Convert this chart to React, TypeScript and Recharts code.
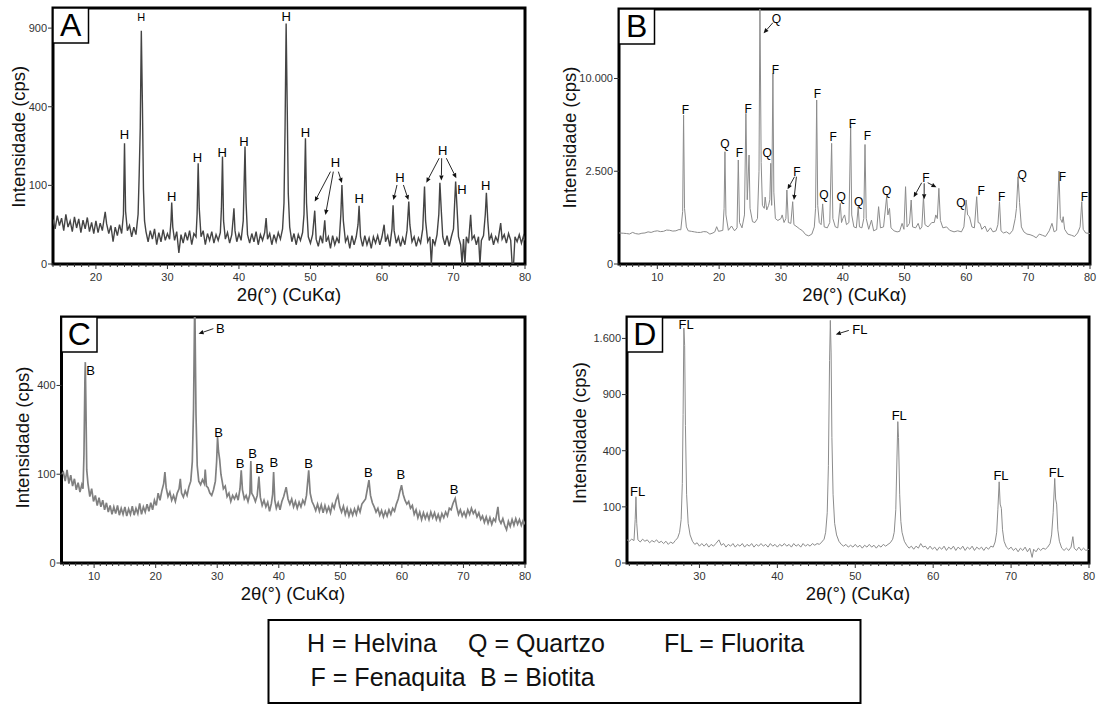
import React from 'react';
import { LineChart, Line, XAxis, YAxis, ReferenceArea, ReferenceDot, ReferenceLine } from 'recharts';

const FONT = '"Liberation Sans", Arial, Helvetica, sans-serif';

// ---------- Panel A (Helvina) ----------
const xTicksA = [20, 30, 40, 50, 60, 70, 80];
const yTicksA = [0, 100, 400, 900];
const ptsA: [number, number][] = [
  [14.0, 32], [14.3, 20], [14.6, 38], [14.9, 24], [15.2, 34], [15.5, 18], [15.8, 40], [16.1, 22], [16.4, 30], [16.7, 17],
  [17.0, 36], [17.3, 21], [17.6, 33], [17.9, 16], [18.2, 31], [18.5, 20], [18.8, 35], [19.1, 17], [19.4, 28], [19.7, 15],
  [20.0, 30], [20.3, 16], [20.6, 27], [20.9, 18], [21.1, 30], [21.3, 44], [21.5, 26], [21.8, 15], [22.1, 24], [22.4, 8],
  [22.7, 22], [23.0, 13], [23.3, 25], [23.6, 15], [23.85, 40], [24.0, 236], [24.15, 45], [24.4, 18], [24.7, 24], [25.0, 12],
  [25.3, 22], [25.6, 14], [25.9, 40], [26.05, 128], [26.2, 300], [26.35, 880], [26.5, 420], [26.65, 90], [26.8, 30], [27.0, 17],
  [27.3, 8], [27.6, 18], [27.9, 10], [28.2, 20], [28.5, 6], [28.8, 16], [29.1, 8], [29.4, 19], [29.7, 9], [30.0, 15],
  [30.3, 10], [30.5, 30], [30.6, 61], [30.75, 22], [31.0, 9], [31.3, 17], [31.6, 2], [31.9, 14], [32.2, 7], [32.5, 16],
  [32.8, 9], [33.1, 18], [33.4, 6], [33.7, 15], [34.0, 12], [34.15, 40], [34.3, 164], [34.45, 50], [34.7, 12], [35.0, 18],
  [35.3, 6], [35.6, 15], [35.9, 9], [36.2, 17], [36.5, 7], [36.8, 14], [37.1, 9], [37.4, 16], [37.55, 50], [37.7, 187],
  [37.85, 30], [38.1, 10], [38.4, 16], [38.7, 7], [39.0, 14], [39.2, 35], [39.3, 50], [39.45, 18], [39.7, 8], [40.0, 15],
  [40.3, 9], [40.6, 30], [40.85, 223], [41.0, 60], [41.2, 14], [41.5, 7], [41.8, 15], [42.1, 8], [42.4, 17], [42.7, 6],
  [43.0, 14], [43.3, 9], [43.6, 16], [43.8, 34], [44.0, 10], [44.3, 15], [44.6, 6], [44.9, 14], [45.2, 8], [45.5, 16],
  [45.8, 10], [46.1, 20], [46.3, 60], [46.45, 300], [46.6, 935], [46.75, 400], [46.9, 80], [47.1, 22], [47.4, 8], [47.7, 15],
  [48.0, 6], [48.3, 14], [48.6, 9], [48.9, 16], [49.1, 40], [49.3, 256], [49.45, 60], [49.7, 12], [50.0, 7], [50.3, 14],
  [50.6, 46], [50.8, 10], [51.1, 5], [51.4, 13], [51.7, 7], [52.0, 31], [52.2, 8], [52.5, 12], [52.8, 4], [53.1, 13],
  [53.4, 6], [53.7, 11], [54.0, 7], [54.25, 40], [54.4, 101], [54.6, 30], [54.9, 8], [55.2, 12], [55.5, 4], [55.8, 13],
  [56.1, 6], [56.4, 12], [56.65, 25], [56.8, 55], [57.0, 12], [57.3, 5], [57.6, 13], [57.9, 6], [58.2, 11], [58.5, 4],
  [58.8, 12], [59.1, 7], [59.4, 13], [59.7, 6], [60.0, 12], [60.3, 25], [60.5, 8], [60.8, 13], [61.1, 5], [61.4, 20],
  [61.55, 56], [61.7, 18], [62.0, 7], [62.3, 12], [62.6, 5], [62.9, 11], [63.2, 6], [63.5, 18], [63.75, 63], [63.9, 25],
  [64.2, 8], [64.5, 12], [64.8, 5], [65.1, 11], [65.4, 7], [65.7, 20], [65.95, 97], [66.1, 30], [66.4, 8], [66.7, 12],
  [66.9, 0], [67.1, 10], [67.4, 6], [67.7, 14], [67.95, 40], [68.1, 107], [68.3, 45], [68.5, 12], [68.8, 6], [69.1, 13],
  [69.4, 5], [69.7, 12], [70.0, 20], [70.3, 110], [70.5, 50], [70.7, 12], [71.0, 6], [71.2, 0], [71.4, 10], [71.6, 0],
  [71.8, 12], [72.1, 7], [72.4, 39], [72.6, 10], [72.9, 13], [73.2, 6], [73.5, 12], [73.7, 0], [73.9, 9], [74.2, 13],
  [74.45, 40], [74.6, 82], [74.8, 30], [75.0, 9], [75.3, 14], [75.6, 6], [75.9, 12], [76.2, 8], [76.6, 27], [76.8, 10],
  [77.1, 14], [77.4, 7], [77.7, 15], [78.0, 9], [78.2, 0], [78.4, 0], [78.6, 12], [78.9, 8], [79.2, 14], [79.5, 7],
  [79.8, 13], [80.0, 9],
];
const labelsA: [number, number, string, number][] = [
  [24.0, 270, 'H', 13], [26.35, 990, 'H', 11], [30.6, 74, 'H', 13], [34.2, 185, 'H', 13], [37.65, 202, 'H', 13],
  [40.7, 243, 'H', 13], [46.6, 995, 'H', 13], [49.3, 281, 'H', 13], [53.5, 166, 'H', 13], [56.8, 69, 'H', 13],
  [62.5, 122, 'H', 13], [68.5, 208, 'H', 13], [71.2, 90, 'H', 13], [74.5, 101, 'H', 13],
];
const arrowsA: [number, number, number, number][] = [
  [52.8, 138, 50.6, 63], [53.2, 138, 52.1, 39], [53.9, 138, 54.4, 106],
  [62.1, 101, 61.6, 66], [63.0, 101, 63.7, 66],
  [68.0, 181, 66.2, 107], [68.35, 181, 68.3, 113], [69.0, 181, 70.4, 119],
];

// ---------- Panel B (Fenaquita / Quartzo) ----------
const xTicksB = [10, 20, 30, 40, 50, 60, 70, 80];
const yTicksB = [0, 2500, 10000];
const ptsB: [number, number][] = [
  [3.8, 280], [4.5, 275], [5.0, 270], [5.5, 262], [6.0, 290], [6.5, 268], [7.0, 260], [7.5, 275], [8.0, 280], [8.5, 300],
  [9.0, 290], [9.5, 310], [10.0, 320], [10.5, 305], [11.0, 310], [11.5, 335], [12.0, 330], [12.5, 315], [13.0, 320], [13.5, 345],
  [13.8, 340], [14.1, 800], [14.25, 6450], [14.4, 900], [14.7, 400], [15.0, 320], [15.5, 310], [16.0, 300], [16.5, 290], [17.0, 290],
  [17.5, 305], [18.0, 300], [18.5, 260], [19.0, 280], [19.3, 300], [19.6, 404], [19.9, 310], [20.3, 320], [20.6, 330], [20.8, 900],
  [20.94, 3665], [21.1, 700], [21.5, 330], [22.0, 420], [22.5, 320], [22.9, 380], [23.1, 3143], [23.3, 500], [23.7, 380], [24.1, 700],
  [24.33, 6600], [24.55, 1200], [24.84, 3453], [25.0, 900], [25.4, 520], [25.8, 500], [26.2, 600], [26.45, 2500], [26.6, 20000], [26.8, 3000],
  [27.0, 1000], [27.3, 900], [27.45, 1300], [27.7, 850], [28.0, 1000], [28.2, 1200], [28.35, 2946], [28.5, 1000], [28.7, 10570], [28.85, 1500],
  [29.1, 600], [29.5, 550], [30.0, 600], [30.2, 700], [30.5, 500], [30.8, 600], [30.96, 1591], [31.2, 500], [31.6, 480], [31.9, 1128],
  [32.1, 450], [32.6, 400], [33.0, 360], [33.5, 320], [34.0, 250], [34.5, 230], [35.0, 260], [35.4, 400], [35.6, 900], [35.78, 7816],
  [35.95, 1000], [36.2, 500], [36.5, 450], [36.75, 1050], [37.0, 400], [37.5, 380], [37.9, 500], [38.2, 4232], [38.4, 600], [38.8, 400],
  [39.2, 380], [39.6, 1070], [39.8, 500], [40.0, 600], [40.3, 700], [40.6, 450], [41.0, 500], [41.28, 5480], [41.45, 700], [41.8, 400],
  [42.2, 380], [42.5, 955], [42.7, 400], [43.1, 380], [43.4, 600], [43.6, 4150], [43.8, 600], [44.2, 350], [44.65, 560], [45.0, 320],
  [45.5, 350], [45.8, 955], [46.1, 380], [46.6, 400], [47.1, 1317], [47.3, 700], [47.56, 900], [47.8, 380], [48.3, 320], [48.8, 300],
  [49.2, 310], [49.6, 480], [49.9, 350], [50.16, 1737], [50.4, 400], [50.8, 480], [51.07, 1190], [51.3, 400], [51.8, 380], [52.2, 480],
  [52.5, 350], [52.8, 400], [53.06, 1317], [53.3, 450], [53.8, 400], [54.4, 500], [54.8, 500], [55.05, 700], [55.3, 600], [55.55, 1665],
  [55.8, 550], [56.2, 380], [56.8, 400], [57.3, 330], [58.0, 300], [58.6, 320], [59.2, 300], [59.6, 400], [59.97, 1190], [60.2, 700],
  [60.5, 650], [60.9, 400], [61.3, 380], [61.67, 1317], [61.9, 500], [62.2, 480], [62.5, 350], [63.0, 420], [63.4, 300], [63.9, 380],
  [64.3, 300], [64.8, 320], [65.1, 450], [65.36, 1128], [65.6, 320], [66.0, 280], [66.5, 300], [67.0, 260], [67.5, 330], [67.9, 600],
  [68.1, 900], [68.35, 2215], [68.6, 1100], [68.9, 400], [69.3, 300], [69.8, 260], [70.3, 250], [70.8, 230], [71.3, 200], [71.8, 260],
  [72.3, 240], [72.8, 220], [73.4, 320], [73.85, 480], [74.2, 300], [74.6, 330], [74.98, 2513], [75.2, 600], [75.5, 500], [75.66, 650],
  [75.9, 350], [76.4, 260], [77.0, 240], [77.5, 220], [78.0, 280], [78.4, 400], [78.67, 1128], [78.9, 350], [79.3, 280], [80.0, 270],
];
const labelsB: [number, number, string, number][] = [
  [14.53, 6892, 'F', 12], [20.94, 4185, 'Q', 12], [23.3, 3600, 'F', 12], [24.68, 7045, 'F', 12], [29.26, 17540, 'Q', 12],
  [27.78, 3600, 'Q', 12], [29.1, 10938, 'F', 12], [32.6, 2476, 'F', 12], [35.9, 8466, 'F', 12], [36.97, 1384, 'Q', 12],
  [38.45, 4710, 'F', 12], [39.74, 1317, 'Q', 12], [41.55, 5696, 'F', 12], [42.57, 1128, 'Q', 12], [44.0, 4761, 'F', 12],
  [47.1, 1561, 'Q', 12], [53.45, 2184, 'F', 12], [59.13, 1092, 'Q', 12], [62.4, 1549, 'F', 12], [65.7, 1317, 'F', 12],
  [69.03, 2302, 'Q', 12], [75.55, 2215, 'F', 12], [79.1, 1317, 'F', 12],
];
const arrowsB: [number, number, number, number][] = [
  [28.69, 16920, 27.2, 15466],
  [32.2, 2215, 31.07, 1621], [32.5, 2215, 32.1, 1190],
  [52.77, 1921, 51.47, 1293], [53.17, 1893, 53.17, 1216], [53.74, 1921, 55.16, 1709],
];

// ---------- Panel C (Biotita) ----------
const xTicksC = [10, 20, 30, 40, 50, 60, 70, 80];
const yTicksC = [0, 100, 400];
const ptsC: [number, number][] = [
  [4.7, 100], [5.0, 105], [5.3, 85], [5.6, 110], [5.9, 80], [6.2, 98], [6.5, 75], [6.8, 90], [7.1, 68], [7.4, 82],
  [7.7, 64], [8.0, 78], [8.2, 70], [8.35, 150], [8.5, 420], [8.57, 512], [8.65, 350], [8.8, 110], [9.0, 80], [9.3, 56],
  [9.6, 70], [9.9, 48], [10.2, 58], [10.5, 42], [10.8, 54], [11.1, 40], [11.4, 50], [11.7, 36], [12.0, 46], [12.3, 33],
  [12.6, 42], [12.9, 30], [13.2, 40], [13.5, 31], [13.8, 42], [14.1, 29], [14.4, 38], [14.7, 30], [15.0, 40], [15.3, 28],
  [15.6, 37], [15.9, 30], [16.2, 41], [16.5, 29], [16.8, 38], [17.1, 31], [17.4, 45], [17.7, 30], [18.0, 40], [18.3, 33],
  [18.6, 44], [18.9, 34], [19.2, 46], [19.5, 36], [19.8, 50], [20.1, 42], [20.4, 62], [20.7, 50], [21.0, 66], [21.3, 80],
  [21.5, 105], [21.7, 72], [22.0, 56], [22.3, 64], [22.6, 50], [22.9, 58], [23.2, 48], [23.5, 62], [23.8, 70], [24.0, 90],
  [24.2, 62], [24.5, 55], [24.8, 66], [25.1, 58], [25.4, 74], [25.7, 85], [25.95, 130], [26.15, 300], [26.35, 900], [26.55, 280],
  [26.75, 120], [27.0, 85], [27.3, 78], [27.6, 88], [27.9, 80], [28.05, 111], [28.25, 75], [28.5, 72], [28.8, 62], [29.1, 58],
  [29.4, 68], [29.7, 85], [29.9, 130], [30.05, 201], [30.2, 160], [30.4, 135], [30.6, 100], [30.8, 85], [31.0, 70], [31.3, 75],
  [31.6, 56], [31.9, 62], [32.2, 48], [32.5, 58], [32.8, 52], [33.1, 60], [33.4, 50], [33.7, 70], [33.9, 109], [34.1, 68],
  [34.4, 52], [34.7, 58], [35.0, 48], [35.3, 60], [35.46, 132], [35.6, 62], [35.9, 56], [36.2, 48], [36.5, 58], [36.77, 95],
  [37.0, 55], [37.3, 42], [37.6, 50], [37.9, 40], [38.2, 47], [38.5, 34], [38.8, 45], [39.0, 60], [39.16, 105], [39.35, 50],
  [39.6, 38], [39.9, 46], [40.2, 36], [40.5, 48], [40.8, 56], [41.2, 73], [41.5, 52], [41.8, 44], [42.1, 52], [42.4, 40],
  [42.7, 48], [43.0, 38], [43.3, 47], [43.6, 40], [43.9, 50], [44.2, 44], [44.5, 58], [44.86, 109], [45.1, 62], [45.4, 48],
  [45.7, 42], [46.0, 35], [46.3, 44], [46.6, 34], [46.9, 43], [47.2, 32], [47.5, 42], [47.8, 33], [48.1, 40], [48.4, 32],
  [48.7, 44], [49.0, 38], [49.3, 50], [49.6, 58], [49.9, 40], [50.2, 33], [50.5, 41], [50.8, 30], [51.1, 38], [51.4, 28],
  [51.7, 36], [52.0, 29], [52.3, 37], [52.6, 30], [52.9, 40], [53.2, 33], [53.5, 44], [53.8, 48], [54.1, 52], [54.4, 70],
  [54.65, 87], [54.9, 58], [55.2, 46], [55.5, 40], [55.8, 33], [56.1, 38], [56.4, 29], [56.7, 35], [57.0, 27], [57.3, 34],
  [57.6, 28], [57.9, 36], [58.2, 30], [58.5, 38], [58.8, 34], [59.1, 44], [59.4, 52], [59.7, 66], [59.94, 77], [60.2, 60],
  [60.5, 50], [60.8, 44], [61.1, 48], [61.4, 38], [61.7, 42], [62.0, 30], [62.3, 36], [62.6, 26], [62.9, 33], [63.2, 24],
  [63.5, 32], [63.8, 25], [64.1, 31], [64.4, 24], [64.7, 33], [65.0, 26], [65.3, 32], [65.6, 24], [65.9, 30], [66.2, 23],
  [66.5, 31], [66.8, 26], [67.1, 33], [67.4, 28], [67.7, 38], [68.0, 36], [68.3, 45], [68.66, 53], [68.9, 40], [69.2, 30],
  [69.5, 36], [69.8, 28], [70.1, 33], [70.4, 27], [70.7, 36], [71.0, 30], [71.3, 38], [71.6, 31], [71.9, 35], [72.2, 27],
  [72.5, 32], [72.8, 24], [73.1, 28], [73.4, 21], [73.7, 27], [74.0, 20], [74.3, 26], [74.6, 19], [74.9, 25], [75.2, 22],
  [75.6, 40], [75.8, 24], [76.1, 20], [76.4, 25], [76.7, 18], [77.0, 14], [77.3, 22], [77.6, 17], [77.9, 24], [78.2, 18],
  [78.5, 25], [78.8, 19], [79.1, 24], [79.4, 18], [79.7, 23], [80.0, 19],
];
const labelsC: [number, number, string, number][] = [
  [9.43, 471, 'B', 13], [30.5, 697, 'B', 13], [30.2, 218, 'B', 13], [33.7, 125, 'B', 13], [35.74, 153, 'B', 13],
  [36.9, 114, 'B', 13], [39.2, 128, 'B', 13], [44.86, 125, 'B', 13], [54.54, 105, 'B', 13], [59.83, 99, 'B', 13],
  [68.48, 69, 'B', 13],
];
const arrowsC: [number, number, number, number][] = [[29.37, 697, 26.97, 667]];

// ---------- Panel D (Fluorita) ----------
const xTicksD = [30, 40, 50, 60, 70, 80];
const yTicksD = [0, 100, 400, 900, 1600];
const ptsD: [number, number][] = [
  [20.7, 17], [21.0, 15], [21.3, 18], [21.6, 16], [21.75, 60], [21.85, 139], [21.95, 50], [22.1, 17], [22.4, 14], [22.7, 18],
  [23.0, 15], [23.3, 17], [23.6, 13], [23.9, 16], [24.2, 14], [24.5, 17], [24.8, 13], [25.1, 15], [25.4, 12], [25.7, 15],
  [26.0, 11], [26.3, 14], [26.6, 12], [26.9, 16], [27.2, 20], [27.45, 30], [27.65, 60], [27.8, 200], [27.9, 700], [28.0, 1752],
  [28.1, 1500], [28.2, 600], [28.35, 150], [28.55, 50], [28.8, 25], [29.1, 15], [29.4, 11], [29.7, 13], [30.0, 9], [30.3, 12],
  [30.6, 9], [30.9, 12], [31.2, 8], [31.5, 11], [31.8, 9], [32.1, 12], [32.5, 17], [32.8, 10], [33.1, 12], [33.4, 8],
  [33.7, 11], [34.0, 9], [34.3, 12], [34.6, 8], [34.9, 11], [35.2, 9], [35.5, 12], [35.8, 8], [36.1, 11], [36.4, 9],
  [36.7, 12], [37.0, 8], [37.3, 11], [37.6, 9], [37.9, 12], [38.2, 9], [38.5, 11], [38.8, 8], [39.1, 12], [39.4, 9],
  [39.7, 11], [40.0, 8], [40.3, 11], [40.6, 9], [40.9, 12], [41.2, 9], [41.5, 11], [41.8, 8], [42.1, 12], [42.4, 9],
  [42.7, 11], [43.0, 8], [43.3, 12], [43.6, 9], [43.9, 11], [44.2, 9], [44.5, 12], [44.8, 10], [45.1, 12], [45.4, 11],
  [45.7, 14], [46.0, 18], [46.2, 30], [46.4, 80], [46.55, 300], [46.7, 1300], [46.8, 1867], [46.9, 1400], [47.0, 500], [47.15, 150],
  [47.35, 50], [47.6, 25], [47.9, 15], [48.2, 11], [48.5, 9], [48.8, 11], [49.1, 8], [49.4, 10], [49.7, 8], [50.0, 11],
  [50.3, 8], [50.6, 10], [50.9, 7], [51.2, 10], [51.5, 8], [51.8, 11], [52.1, 8], [52.4, 10], [52.7, 7], [53.0, 10],
  [53.3, 8], [53.6, 11], [53.9, 9], [54.2, 11], [54.5, 13], [54.8, 18], [55.0, 30], [55.2, 90], [55.35, 350], [55.46, 634],
  [55.55, 500], [55.7, 150], [55.85, 55], [56.0, 30], [56.3, 15], [56.6, 10], [56.9, 7], [57.2, 9], [57.5, 6], [57.8, 9],
  [58.1, 7], [58.4, 12], [58.7, 8], [59.0, 9], [59.3, 6], [59.6, 9], [59.9, 6], [60.2, 8], [60.5, 5], [60.8, 8],
  [61.1, 6], [61.4, 9], [61.7, 5], [62.0, 8], [62.3, 6], [62.6, 9], [62.9, 5], [63.2, 8], [63.5, 6], [63.8, 9],
  [64.1, 5], [64.4, 8], [64.7, 6], [65.0, 9], [65.3, 5], [65.6, 8], [65.9, 6], [66.2, 8], [66.5, 5], [66.8, 8],
  [67.1, 6], [67.4, 9], [67.7, 8], [67.95, 14], [68.15, 30], [68.3, 90], [68.47, 209], [68.6, 110], [68.75, 95], [68.9, 35],
  [69.1, 15], [69.4, 8], [69.7, 6], [70.0, 8], [70.3, 5], [70.6, 7], [70.9, 4], [71.2, 7], [71.5, 5], [71.8, 8],
  [72.1, 4], [72.4, 7], [72.7, 1], [72.9, 6], [73.2, 4], [73.5, 7], [73.8, 5], [74.1, 7], [74.4, 6], [74.7, 8],
  [75.0, 12], [75.2, 25], [75.4, 80], [75.6, 227], [75.72, 130], [75.85, 110], [76.0, 35], [76.2, 15], [76.5, 7], [76.8, 5],
  [77.1, 7], [77.4, 5], [77.7, 8], [77.93, 22], [78.1, 7], [78.4, 5], [78.7, 8], [79.0, 5], [79.3, 7], [79.6, 5],
  [80.0, 6],
];
const labelsD: [number, number, string, number][] = [
  [22.07, 164, 'FL', 13], [28.3, 1802, 'FL', 13], [50.6, 1737, 'FL', 13], [55.64, 696, 'FL', 13],
  [68.7, 245, 'FL', 13], [75.8, 261, 'FL', 13],
];
const arrowsD: [number, number, number, number][] = [[49.17, 1716, 47.5, 1658]];

// ---------- legend ----------
const legendItems: [string, number, number][] = [
  ['H = Helvina', 307, 652], ['Q = Quartzo', 468, 652], ['FL = Fluorita', 664, 652],
  ['F = Fenaquita', 310.6, 686], ['B = Biotita', 480, 686],
];

const fmt = (v: number) => String(v).replace(/\B(?=(\d{3})+(?!\d))/g, '.');

const ArrowShape = (p: any) => {
  const { x1, y1, x2, y2 } = p;
  if (![x1, y1, x2, y2].every((v) => typeof v === 'number' && isFinite(v))) return <g />;
  const ang = Math.atan2(y2 - y1, x2 - x1);
  const L = 5, W = 2.2;
  const bx = x2 - L * Math.cos(ang), by = y2 - L * Math.sin(ang);
  const pts = `${x2},${y2} ${bx - W * Math.sin(ang)},${by + W * Math.cos(ang)} ${bx + W * Math.sin(ang)},${by - W * Math.cos(ang)}`;
  return (
    <g>
      <line x1={x1} y1={y1} x2={bx} y2={by} stroke="#111" strokeWidth={0.9} />
      <polygon points={pts} fill="#111" />
    </g>
  );
};

const makeXTick = (major: number[]) => (p: any) => {
  const v = p.payload && p.payload.value;
  const isMajor = major.includes(v);
  return (
    <g>
      <line x1={p.x} x2={p.x} y1={p.y} y2={p.y + (isMajor ? 5 : 3)} stroke="#333" strokeWidth={1} />
      {isMajor && (
        <text x={p.x} y={p.y + 17} textAnchor="middle" fontSize={11} fill="#333" fontFamily={FONT}>
          {v}
        </text>
      )}
    </g>
  );
};

type Cfg = {
  left: number; top: number; width: number; height: number; mt: number; mr: number; yw: number; xh: number;
  xDomain: [number, number]; yMax: number; xTicks: number[]; yTicks: number[];
  pts: [number, number][]; labels: [number, number, string, number][]; arrows: [number, number, number, number][];
  color: string; sw: number;
};

function Panel({ cfg }: { cfg: Cfg }) {
  const data = cfg.pts.map(([x, y]) => ({ x, y }));
  const allTicks: number[] = [];
  for (let t = Math.ceil(cfg.xDomain[0]); t <= cfg.xDomain[1]; t++) allTicks.push(t);
  return (
    <div style={{ position: 'absolute', left: cfg.left, top: cfg.top }}>
      <LineChart width={cfg.width} height={cfg.height} data={data} margin={{ top: cfg.mt, right: cfg.mr, bottom: 0, left: 0 }}>
        <XAxis
          type="number" dataKey="x" domain={cfg.xDomain} ticks={allTicks} interval={0} allowDataOverflow
          height={cfg.xh} tickLine={false} axisLine={false} tickSize={0} tickMargin={0} tick={makeXTick(cfg.xTicks)}
        />
        <YAxis
          type="number" scale="sqrt" domain={[0, cfg.yMax]} ticks={cfg.yTicks} interval={0} allowDataOverflow
          width={cfg.yw} axisLine={false} tickSize={5} tickMargin={1} tickLine={{ stroke: '#333' }}
          tick={{ fontSize: 11, fill: '#333', fontFamily: FONT }} tickFormatter={fmt}
        />
        <Line type="linear" dataKey="y" stroke={cfg.color} strokeWidth={cfg.sw} dot={false} activeDot={false} isAnimationActive={false} />
        {cfg.arrows.map((a, i) => (
          <ReferenceLine key={'a' + i} segment={[{ x: a[0], y: a[1] }, { x: a[2], y: a[3] }]} shape={ArrowShape} stroke="#111" />
        ))}
        {cfg.labels.map((l, i) => (
          <ReferenceDot
            key={'l' + i} x={l[0]} y={l[1]} r={0} fill="none" stroke="none"
            label={{ value: l[2], position: 'center', fontSize: l[3], fill: '#000', fontFamily: FONT }}
          />
        ))}
        <ReferenceArea x1={cfg.xDomain[0]} x2={cfg.xDomain[1]} y1={0} y2={cfg.yMax} fill="none" fillOpacity={0} stroke="#000" strokeWidth={3} />
      </LineChart>
    </div>
  );
}

const panels: Cfg[] = [
  { left: 0, top: 0, width: 545, height: 300, mt: 8, mr: 20, yw: 53, xh: 36, xDomain: [14, 80], yMax: 1060,
    xTicks: xTicksA, yTicks: yTicksA, pts: ptsA, labels: labelsA, arrows: arrowsA, color: '#444444', sw: 1.4 },
  { left: 560, top: 0, width: 537, height: 300, mt: 9, mr: 7, yw: 59, xh: 36, xDomain: [3.8, 80], yMax: 18900,
    xTicks: xTicksB, yTicks: yTicksB, pts: ptsB, labels: labelsB, arrows: arrowsB, color: '#8c8c8c', sw: 1 },
  { left: 0, top: 300, width: 545, height: 300, mt: 17, mr: 20, yw: 61.5, xh: 37, xDomain: [4.7, 80], yMax: 768,
    xTicks: xTicksC, yTicks: yTicksC, pts: ptsC, labels: labelsC, arrows: arrowsC, color: '#808080', sw: 1.7 },
  { left: 560, top: 300, width: 537, height: 300, mt: 17, mr: 8, yw: 67, xh: 37, xDomain: [20.7, 80], yMax: 1920,
    xTicks: xTicksD, yTicks: yTicksD, pts: ptsD, labels: labelsD, arrows: arrowsD, color: '#8c8c8c', sw: 1 },
];

const yTitles: [number, number][] = [[18.4, 136.7], [569, 137.5], [22, 437.5], [579.5, 433]];
const xTitles: [number, number][] = [[289, 301], [854.5, 301], [293, 600], [858, 600]];
const letters: [string, number, number][] = [['A', 53, 8], ['B', 619, 9], ['C', 61.5, 317], ['D', 627, 317]];

export default function App() {
  return (
    <div style={{ position: 'absolute', left: 0, top: 0, width: 1097, height: 705, background: '#fff', fontFamily: FONT }}>
      {panels.map((p, i) => <Panel key={i} cfg={p} />)}
      <svg width={1097} height={705} style={{ position: 'absolute', left: 0, top: 0, pointerEvents: 'none' }}>
        {yTitles.map(([x, y], i) => (
          <text key={'yt' + i} transform={`translate(${x},${y}) rotate(-90)`} textAnchor="middle" dominantBaseline="central"
            fontSize={18.5} fill="#111" fontFamily={FONT}>Intensidade (cps)</text>
        ))}
        {xTitles.map(([x, y], i) => (
          <text key={'xt' + i} x={x} y={y} textAnchor="middle" fontSize={18.5} fill="#111" fontFamily={FONT}>2θ(°) (CuKα)</text>
        ))}
        {letters.map(([t, x, y], i) => (
          <g key={'lt' + i}>
            <rect x={x} y={y} width={35.5} height={35} fill="#fff" stroke="#000" strokeWidth={1.5} />
            <text x={x + 17.75} y={y + 28} textAnchor="middle" fontSize={32} fill="#000" fontFamily={FONT}>{t}</text>
          </g>
        ))}
        <rect x={268.5} y={620} width={592} height={83} fill="#fff" stroke="#000" strokeWidth={2} />
        {legendItems.map(([t, x, y], i) => (
          <text key={'lg' + i} x={x} y={y} fontSize={25} fill="#111" fontFamily={FONT}>{t}</text>
        ))}
      </svg>
    </div>
  );
}
